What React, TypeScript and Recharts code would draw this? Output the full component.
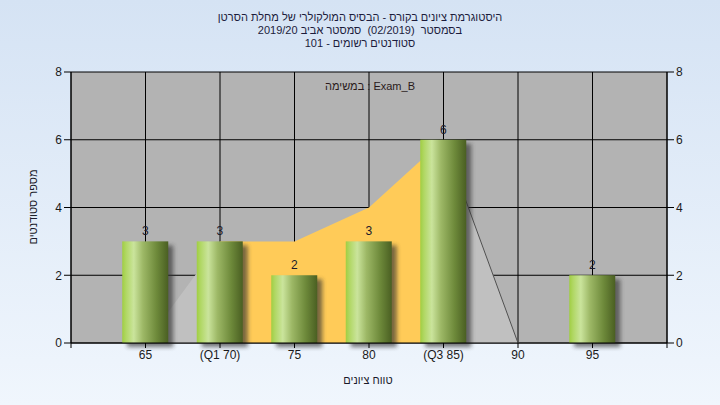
import React from 'react';
import {
  ComposedChart,
  Bar,
  Area,
  Line,
  XAxis,
  YAxis,
  CartesianGrid,
  LabelList,
} from 'recharts';

const categories = [65, 70, 75, 80, 85, 90, 95];
const counts = [3, 3, 2, 3, 6, 0, 2];
const curve = [0, 3, 3, 4, 6, 0, 0];
const xTicks = [60, 65, 70, 75, 80, 85, 90, 95, 100];
const xTickLabels: Record<number, string> = {
  65: '65',
  70: '(Q1 70)',
  75: '75',
  80: '80',
  85: '(Q3 85)',
  90: '90',
  95: '95',
};
const yTicks = [0, 2, 4, 6, 8];
const titleLines = [
  'היסטוגרמת ציונים בקורס - הבסיס המולקולרי של מחלת הסרטן',
  'בסמסטר  (02/2019)  סמסטר אביב 2019/20',
  'סטודנטים רשומים - 101',
];
const legendText = 'במשימה : Exam_B';
const yTitle = 'מספר סטודנטים';
const xTitle = 'טווח ציונים';

const data = categories.map((c, i) => ({
  x: c,
  count: counts[i],
  curve: curve[i],
}));

const FONT = '"Liberation Sans", Arial, "DejaVu Sans", sans-serif';

const BarShape = (props: any) => {
  const { x, y, width, height } = props;
  if (!height || height <= 0) return null;
  return (
    <g>
      <rect
        x={x + 5}
        y={y + 4}
        width={width}
        height={height}
        fill="#333"
        opacity={0.65}
        filter="url(#shadowBlur)"
      />
      <rect x={x} y={y} width={width} height={height} fill="url(#barGrad)" />
    </g>
  );
};

const renderLabel = (props: any) => {
  const { x, y, width, value } = props;
  if (!value) return null;
  return (
    <text
      x={x + width / 2}
      y={y - 6}
      textAnchor="middle"
      fontSize={12}
      fontFamily={FONT}
      fill="#1a1a2a"
    >
      {value}
    </text>
  );
};

export default function App() {
  return (
    <div
      style={{
        position: 'absolute',
        left: 0,
        top: 0,
        width: 720,
        height: 405,
        background: 'linear-gradient(to bottom, #d5e3f4 0%, #f0f6fd 100%)',
        fontFamily: FONT,
        overflow: 'hidden',
      }}
    >
      <svg width={0} height={0} style={{ position: 'absolute' }}>
        <defs>
          <linearGradient id="barGrad" x1="0" y1="0" x2="1" y2="0">
            <stop offset="0" stopColor="#a0ce42" />
            <stop offset="0.08" stopColor="#b0d763" />
            <stop offset="0.25" stopColor="#cae49c" />
            <stop offset="0.45" stopColor="#9db866" />
            <stop offset="0.75" stopColor="#6d893a" />
            <stop offset="1" stopColor="#4a5f22" />
          </linearGradient>
          <linearGradient id="areaFill" x1="0" y1="0" x2="1" y2="0">
            <stop offset="0" stopColor="#c0c0c0" />
            <stop offset="0.1667" stopColor="#c0c0c0" />
            <stop offset="0.1667" stopColor="#ffcb58" />
            <stop offset="0.6667" stopColor="#ffcb58" />
            <stop offset="0.6667" stopColor="#c0c0c0" />
            <stop offset="1" stopColor="#c0c0c0" />
          </linearGradient>
          <linearGradient id="areaStroke" x1="0" y1="0" x2="1" y2="0">
            <stop offset="0" stopColor="#505050" stopOpacity="0" />
            <stop offset="0.6667" stopColor="#505050" stopOpacity="0" />
            <stop offset="0.6667" stopColor="#505050" stopOpacity="1" />
            <stop offset="0.8333" stopColor="#505050" stopOpacity="1" />
            <stop offset="0.8333" stopColor="#8a8a8a" stopOpacity="1" />
            <stop offset="1" stopColor="#8a8a8a" stopOpacity="1" />
          </linearGradient>
          <filter id="shadowBlur" x="-20%" y="-20%" width="140%" height="140%">
            <feGaussianBlur stdDeviation="2" />
          </filter>
        </defs>
      </svg>

      <div
        dir="rtl"
        style={{
          position: 'absolute',
          left: 0,
          top: 11,
          width: 720,
          textAlign: 'center',
          fontSize: 11,
          lineHeight: '13px',
          color: '#1c1c3c',
          whiteSpace: 'pre',
        }}
      >
        {titleLines.map((t, i) => (
          <div key={i}>{t}</div>
        ))}
      </div>

      <ComposedChart
        width={720}
        height={405}
        data={data}
        margin={{ top: 72, right: 0, bottom: 0, left: 0 }}
        style={{ position: 'absolute', left: 0, top: 0 }}
      >
        <CartesianGrid
          yAxisId="left"
          stroke="#000"
          strokeWidth={1}
          fill="#b3b3b3"
          fillOpacity={1}
        />
        <XAxis
          dataKey="x"
          type="number"
          domain={[60, 100]}
          ticks={xTicks}
          tickFormatter={(v: number) => xTickLabels[v] || ''}
          tickSize={5}
          tickLine={{ stroke: '#000' }}
          axisLine={{ stroke: '#000' }}
          height={62}
          interval={0}
          tick={{ fontSize: 12, fill: '#1a1a1a', fontFamily: FONT }}
        />
        <YAxis
          yAxisId="left"
          orientation="left"
          domain={[0, 8]}
          ticks={yTicks}
          width={71}
          tickSize={7}
          tickLine={{ stroke: '#000' }}
          axisLine={{ stroke: '#000' }}
          tick={{ fontSize: 12, fill: '#1a1a1a', fontFamily: FONT }}
        />
        <YAxis
          yAxisId="right"
          orientation="right"
          domain={[0, 8]}
          ticks={yTicks}
          width={53}
          tickSize={7}
          tickLine={{ stroke: '#000' }}
          axisLine={{ stroke: '#000' }}
          tick={{ fontSize: 12, fill: '#1a1a1a', fontFamily: FONT }}
        />
        <Area
          yAxisId="left"
          dataKey="curve"
          type="linear"
          fill="url(#areaFill)"
          fillOpacity={1}
          stroke="url(#areaStroke)"
          strokeWidth={1}
          dot={false}
          activeDot={false}
          isAnimationActive={false}
        />
        <Line
          yAxisId="right"
          dataKey="count"
          stroke="none"
          dot={false}
          activeDot={false}
          legendType="none"
          isAnimationActive={false}
        />
        <Bar
          yAxisId="left"
          dataKey="count"
          barSize={46}
          shape={BarShape}
          isAnimationActive={false}
        >
          <LabelList dataKey="count" content={renderLabel} />
        </Bar>
      </ComposedChart>

      <div
        style={{
          position: 'absolute',
          left: 325,
          top: 80,
          fontSize: 11,
          color: '#2a1a1a',
          whiteSpace: 'pre',
        }}
      >
        {legendText}
      </div>

      <div
        dir="rtl"
        style={{
          position: 'absolute',
          left: 33,
          top: 207,
          fontSize: 11,
          color: '#1a1a2a',
          whiteSpace: 'pre',
          transform: 'translate(-50%, -50%) rotate(-90deg)',
        }}
      >
        {yTitle}
      </div>

      <div
        dir="rtl"
        style={{
          position: 'absolute',
          left: 368,
          top: 380,
          fontSize: 11,
          color: '#1a1a2a',
          whiteSpace: 'pre',
          transform: 'translate(-50%, -50%)',
        }}
      >
        {xTitle}
      </div>
    </div>
  );
}
